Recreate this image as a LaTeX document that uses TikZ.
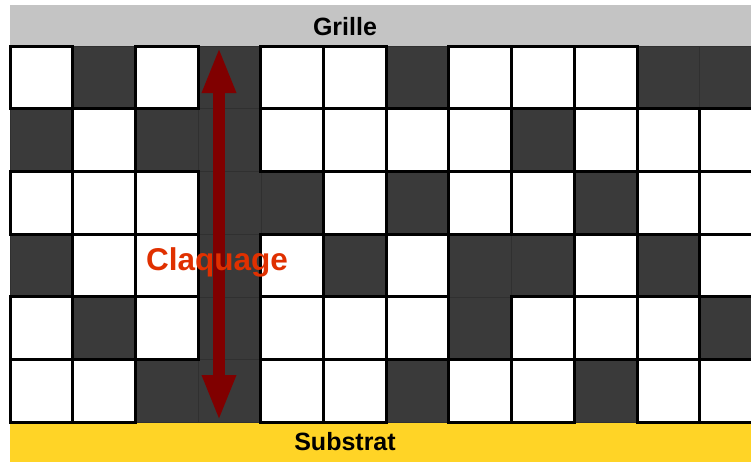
\documentclass[tikz,border=0pt]{standalone}
\usepackage{fontspec}
\setmainfont{Liberation Sans}
\usetikzlibrary{arrows.meta}
\definecolor{grillegray}{HTML}{C4C4C4}
\definecolor{substratyellow}{HTML}{FFD426}
\definecolor{celldark}{HTML}{3A3A3A}
\definecolor{celledge}{HTML}{303030}
\definecolor{arrowred}{HTML}{800000}
\definecolor{labelred}{HTML}{E03000}
\tikzset{
  darkcell/.style={fill=celldark, draw=celledge, line width=0.6pt},
  whitecell/.style={fill=white, draw=black, line width=3pt},
  barlabel/.style={font=\bfseries\fontsize{25}{30}\selectfont, text=black, anchor=base},
  breakdown/.style={draw=arrowred, line width=12pt, {Triangle[width=31pt,length=46pt]}-{Triangle[width=31pt,length=46pt]}},
  breaklabel/.style={font=\bfseries\fontsize{31.5}{36}\selectfont, text=labelred, anchor=base}
}
\begin{document}
\begin{tikzpicture}[x=1pt,y=-1pt]
\useasboundingbox (0,0) rectangle (751,461);
\fill[white] (0,0) rectangle (751,461);
\clip (0,0) rectangle (751,461);
% bars
\fill[grillegray] (10,5) rectangle (760,46);
\fill[substratyellow] (10,422) rectangle (760,470);
% cells: dark pass
\foreach \row [count=\r from 0] in {{0,1,0,1,0,0,1,0,0,0,1,1},{1,0,1,1,0,0,0,0,1,0,0,0},{0,0,0,1,1,0,1,0,0,1,0,0},{1,0,0,1,0,1,0,1,1,0,1,0},{0,1,0,1,0,0,0,1,0,0,0,1},{0,0,1,1,0,0,1,0,0,1,0,0}}{
  \foreach \v [count=\c from 0] in \row {
    \path[darkcell] ({10+\c*62.7},{46+\r*62.7}) rectangle ++(62.7,62.7);
  }
}
% cells: white pass
\foreach \row [count=\r from 0] in {{0,1,0,1,0,0,1,0,0,0,1,1},{1,0,1,1,0,0,0,0,1,0,0,0},{0,0,0,1,1,0,1,0,0,1,0,0},{1,0,0,1,0,1,0,1,1,0,1,0},{0,1,0,1,0,0,0,1,0,0,0,1},{0,0,1,1,0,0,1,0,0,1,0,0}}{
  \foreach \v [count=\c from 0] in \row {
    \ifnum\v=0
      \path[whitecell] ({10+\c*62.7},{46+\r*62.7}) rectangle ++(62.7,62.7);
    \fi
  }
}
% labels of bars
\node[barlabel] (grille) at (345,35) {Grille};
\node[barlabel] (substrat) at (345,450) {Substrat};
% breakdown arrow
\coordinate (top) at (219,47);
\coordinate (bottom) at (219,421);
\draw[breakdown] (top) -- (bottom);
\node[breaklabel] (claquage) at (217,270) {Claquage};
\end{tikzpicture}
\end{document}
